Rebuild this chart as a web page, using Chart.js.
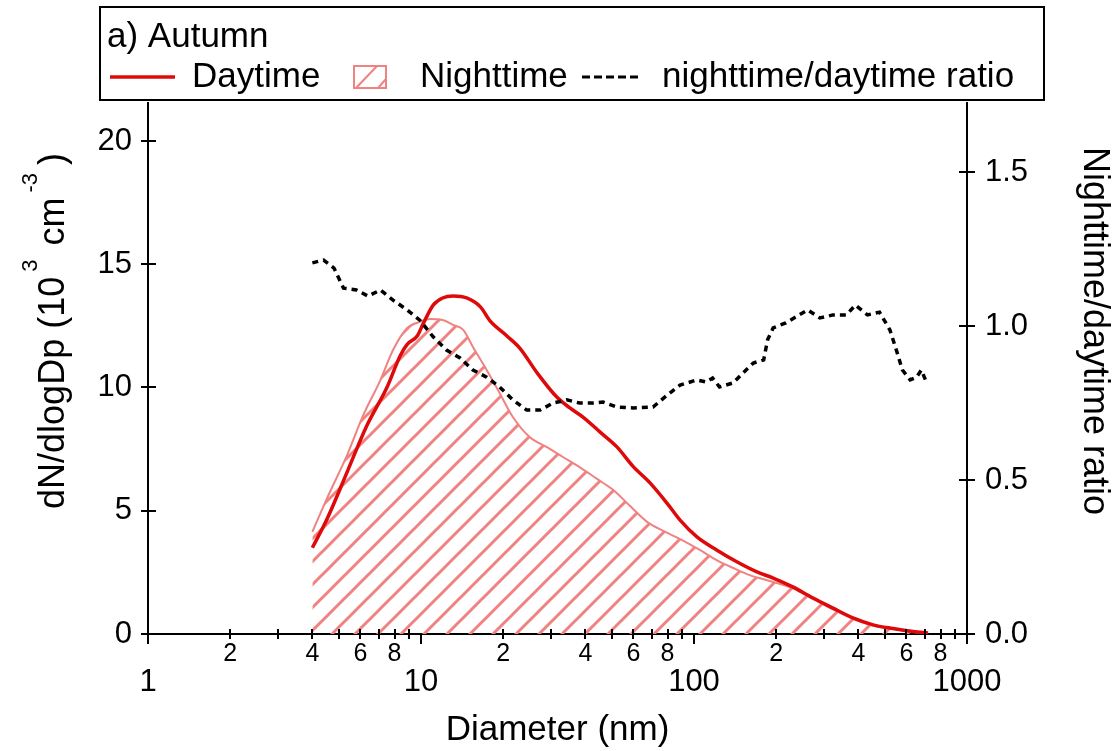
<!DOCTYPE html>
<html>
<head>
<meta charset="utf-8">
<script src="https://cdn.jsdelivr.net/npm/chart.js@4.4.1/dist/chart.umd.min.js"></script>
<style>
  html, body { margin: 0; padding: 0; background: #fff; }
  #wrap { width: 1118px; height: 751px; }
</style>
</head>
<body>
<div id="wrap"><canvas id="sizeChart" width="1118" height="751"></canvas></div>
<script>
// daytime size distribution (dN/dlogDp, 10^3 cm-3)
const dayDp = [4.0, 4.5, 5.4, 6.3, 7.5, 8.4, 8.9, 9.7, 10.2, 11.1, 12.0, 13.1, 14.7, 16.5, 17.9, 20.6, 23.0, 26.6,
  31.5, 35.1, 39.2, 45.3, 52.2, 59.8, 69.0, 79.6, 88.9, 102.5, 121, 144, 170, 195, 230, 273, 323, 382, 453, 536, 634, 720];
const dayN = [3.5, 4.6, 6.65, 8.4, 10.0, 11.3, 11.75, 12.1, 12.6, 13.35, 13.63, 13.71, 13.63, 13.27, 12.7, 12.1, 11.6, 10.6,
  9.6, 9.17, 8.8, 8.19, 7.59, 6.8, 6.13, 5.31, 4.62, 3.94, 3.41, 2.92, 2.52, 2.27, 1.91, 1.46, 1.05, 0.65, 0.37, 0.22, 0.1, 0.04];

// nighttime size distribution
const nightDp = [4.0, 4.5, 5.4, 6.1, 7.1, 7.9, 8.9, 9.9, 10.8, 12.0, 13.1, 14.3, 15.5, 17.4, 19.4, 21.7, 25.0, 28.8,
  33.1, 38.1, 44.0, 50.5, 58.2, 67.3, 77.2, 89, 105, 121, 139, 160, 184, 230, 273, 323, 382, 453, 536, 634, 720];
const nightN = [4.14, 5.44, 7.34, 8.8, 10.3, 11.52, 12.41, 12.66, 12.78, 12.74, 12.54, 12.33, 11.64, 10.71, 9.78, 8.8, 7.99, 7.59,
  7.18, 6.77, 6.3, 5.85, 5.2, 4.55, 4.18, 3.85, 3.41, 3.0, 2.68, 2.39, 2.19, 1.85, 1.42, 1.0, 0.62, 0.34, 0.2, 0.08, 0.03];

// nighttime/daytime ratio (right axis)
const ratioDp = [4.0, 4.4, 4.8, 5.2, 5.8, 6.4, 7.1, 7.9, 8.9, 9.9, 11.1, 12.4, 13.9, 15.5, 17.4, 19.4, 21.7, 24.4, 27.3,
  30.5, 34.2, 38.1, 42.7, 46.4, 52.2, 59.8, 70.8, 79.6, 88.9, 102.5, 111, 117, 124, 139, 151, 165, 180, 186, 195,
  217, 243, 261, 289, 323, 362, 390, 432, 478, 522, 551, 580, 619, 654, 680, 710];
const ratio = [1.205, 1.214, 1.188, 1.123, 1.117, 1.097, 1.117, 1.084, 1.052, 1.019, 0.964, 0.922, 0.896, 0.857, 0.834, 0.802, 0.760, 0.727, 0.727,
  0.750, 0.760, 0.750, 0.750, 0.753, 0.737, 0.734, 0.737, 0.775, 0.808, 0.825, 0.818, 0.831, 0.802, 0.815, 0.847, 0.880, 0.890, 0.955, 0.994,
  1.010, 1.036, 1.052, 1.026, 1.036, 1.036, 1.068, 1.036, 1.045, 0.987, 0.922, 0.857, 0.825, 0.834, 0.857, 0.818];

// axis ticks
const xTickValues = [1, 2, 3, 4, 5, 6, 7, 8, 9, 10, 20, 30, 40, 50, 60, 70, 80, 90, 100,
  200, 300, 400, 500, 600, 700, 800, 900, 1000];
const xTickText = ['1', '2', '', '4', '', '6', '', '8', '', '10', '2', '', '4', '', '6', '', '8', '', '100',
  '2', '', '4', '', '6', '', '8', '', '1000'];
const xMajorTicks = [1, 10, 100, 1000];
const yTickValues = [0, 5, 10, 15, 20];
const y1TickValues = [0, 0.5, 1.0, 1.5];
const y1TickText = ['0.0', '0.5', '1.0', '1.5'];

const FONT = "'Liberation Sans', Arial, Helvetica, sans-serif";
const dayColor = 'rgb(222, 10, 10)';
const nightColor = 'rgb(240, 130, 130)';

function pairs(xs, ys) {
  return xs.map((x, i) => ({ x: x, y: ys[i] }));
}

function makeHatch(color) {
  const s = 23;
  const c = document.createElement('canvas');
  c.width = s; c.height = s;
  const g = c.getContext('2d');
  g.strokeStyle = color;
  g.lineWidth = 3;
  g.beginPath();
  g.moveTo(-s, s); g.lineTo(s, -s);
  g.moveTo(0, 2 * s); g.lineTo(2 * s, 0);
  g.moveTo(0, s); g.lineTo(s, 0);
  g.stroke();
  return g.createPattern(c, 'repeat');
}
const hatch = makeHatch(nightColor);

// tick marks crossing the axis lines
const tickMarks = {
  id: 'tickMarks',
  afterDraw(chart) {
    const { ctx, scales } = chart;
    const area = chart.chartArea;
    ctx.save();
    ctx.strokeStyle = '#000';
    ctx.lineWidth = 2;
    ctx.beginPath();
    xTickValues.forEach(v => {
      const px = Math.round(scales.x.getPixelForValue(v));
      if (xMajorTicks.includes(v)) {
        ctx.moveTo(px, area.bottom); ctx.lineTo(px, area.bottom + 10);
      } else {
        ctx.moveTo(px, area.bottom - 5); ctx.lineTo(px, area.bottom + 5);
      }
    });
    yTickValues.forEach(v => {
      const py = Math.round(scales.y.getPixelForValue(v));
      ctx.moveTo(area.left - 7, py); ctx.lineTo(area.left + 8, py);
    });
    y1TickValues.forEach(v => {
      const py = Math.round(scales.y1.getPixelForValue(v));
      ctx.moveTo(area.right - 8, py); ctx.lineTo(area.right + 8, py);
    });
    ctx.stroke();
    ctx.restore();
  }
};

// axis titles with rotation / superscripts
const axisTitles = {
  id: 'axisTitles',
  afterDraw(chart) {
    const ctx = chart.ctx;
    ctx.save();
    ctx.fillStyle = '#000';
    ctx.textBaseline = 'alphabetic';
    // left title
    const big = 36, small = 22, raise = -27;
    const parts = [
      { t: 'dN/dlogDp (10', s: big, dy: 0, after: 5 },
      { t: '3', s: small, dy: raise, after: 4 },
      { t: ' cm', s: big, dy: 0, after: 5 },
      { t: '-3', s: small, dy: raise, after: 8 },
      { t: ')', s: big, dy: 0, after: 0 }
    ];
    let total = 0;
    parts.forEach(p => {
      ctx.font = p.s + 'px ' + FONT;
      p.w = ctx.measureText(p.t).width;
      total += p.w + p.after;
    });
    ctx.translate(64, 331);
    ctx.rotate(-Math.PI / 2);
    let cx = -total / 2;
    parts.forEach(p => {
      ctx.font = p.s + 'px ' + FONT;
      ctx.fillText(p.t, cx, p.dy);
      cx += p.w + p.after;
    });
    ctx.restore();

    // right title
    ctx.save();
    ctx.fillStyle = '#000';
    ctx.font = '36px ' + FONT;
    ctx.textAlign = 'center';
    ctx.textBaseline = 'alphabetic';
    ctx.translate(1084, 331);
    ctx.rotate(Math.PI / 2);
    ctx.fillText('Nighttime/daytime ratio', 0, 0);
    ctx.restore();
  }
};

// boxed legend at the top
const legendBox = {
  id: 'legendBox',
  afterDraw(chart) {
    const ctx = chart.ctx;
    ctx.save();
    ctx.strokeStyle = '#000';
    ctx.lineWidth = 2;
    ctx.strokeRect(100, 7, 944, 93);

    ctx.fillStyle = '#000';
    ctx.font = '35px ' + FONT;
    ctx.textBaseline = 'alphabetic';
    ctx.fillText('a) Autumn', 107, 47);

    ctx.strokeStyle = dayColor;
    ctx.lineWidth = 3.5;
    ctx.beginPath(); ctx.moveTo(110, 77); ctx.lineTo(175, 77); ctx.stroke();
    ctx.fillText('Daytime', 192, 87);

    ctx.strokeStyle = nightColor;
    ctx.lineWidth = 2;
    ctx.strokeRect(354, 66, 32, 22);
    ctx.beginPath();
    ctx.moveTo(356, 88); ctx.lineTo(377, 66);
    ctx.moveTo(378, 88); ctx.lineTo(386, 79);
    ctx.stroke();
    ctx.fillText('Nighttime', 420, 87);

    ctx.strokeStyle = '#000';
    ctx.lineWidth = 3;
    ctx.setLineDash([8, 4]);
    ctx.beginPath(); ctx.moveTo(582, 77); ctx.lineTo(642, 77); ctx.stroke();
    ctx.setLineDash([]);
    ctx.fillText('nighttime/daytime ratio', 662, 87);
    ctx.restore();
  }
};

const ctx = document.getElementById('sizeChart').getContext('2d');
new Chart(ctx, {
  type: 'line',
  data: {
    datasets: [
      {
        label: 'nighttime/daytime ratio',
        data: pairs(ratioDp, ratio),
        yAxisID: 'y1',
        borderColor: '#000',
        borderWidth: 3.5,
        borderDash: [6, 5],
        pointRadius: 0,
        fill: false
      },
      {
        label: 'Daytime',
        data: pairs(dayDp, dayN),
        yAxisID: 'y',
        borderColor: dayColor,
        borderWidth: 3.5,
        pointRadius: 0,
        cubicInterpolationMode: 'monotone',
        fill: false
      },
      {
        label: 'Nighttime',
        data: pairs(nightDp, nightN),
        yAxisID: 'y',
        borderColor: nightColor,
        borderWidth: 2,
        backgroundColor: hatch,
        pointRadius: 0,
        cubicInterpolationMode: 'monotone',
        fill: 'origin'
      }
    ]
  },
  options: {
    responsive: false,
    animation: false,
    devicePixelRatio: 1,
    layout: { padding: { top: 103, left: 0, right: 0, bottom: 0 } },
    plugins: {
      legend: { display: false },
      tooltip: { enabled: false }
    },
    scales: {
      x: {
        type: 'logarithmic',
        position: 'bottom',
        min: 1,
        max: 1000,
        afterBuildTicks: s => { s.ticks = xTickValues.map(v => ({ value: v })); },
        afterFit: s => { s.height = 117; },
        grid: { display: false, drawTicks: false },
        border: { display: true, color: '#000', width: 2 },
        ticks: {
          autoSkip: false,
          maxRotation: 0,
          padding: 6,
          color: '#000',
          font: c => ({
            family: FONT,
            size: (c.tick && xMajorTicks.includes(c.tick.value)) ? 31 : 25,
            lineHeight: '28px'
          }),
          callback: (value, index) => {
            const t = xTickText[index];
            if (!t) return '';
            return xMajorTicks.includes(xTickValues[index]) ? ['', t] : t;
          }
        },
        title: {
          display: true,
          text: 'Diameter (nm)',
          color: '#000',
          font: { family: FONT, size: 35 },
          padding: { top: 4, bottom: 0 }
        }
      },
      y: {
        position: 'left',
        min: 0,
        max: 21.54,
        afterBuildTicks: s => { s.ticks = yTickValues.map(v => ({ value: v })); },
        afterFit: s => { s.width = 148; },
        grid: { display: false, drawTicks: false },
        border: { display: true, color: '#000', width: 2 },
        ticks: {
          padding: 16,
          color: '#000',
          font: { family: FONT, size: 31 }
        }
      },
      y1: {
        position: 'right',
        min: 0,
        max: 1.724,
        afterBuildTicks: s => { s.ticks = y1TickValues.map(v => ({ value: v })); },
        afterFit: s => { s.width = 151; },
        grid: { display: false, drawTicks: false },
        border: { display: true, color: '#000', width: 2 },
        ticks: {
          padding: 18,
          color: '#000',
          font: { family: FONT, size: 31 },
          callback: (value, index) => y1TickText[index]
        }
      }
    }
  },
  plugins: [tickMarks, axisTitles, legendBox]
});
</script>
</body>
</html>
